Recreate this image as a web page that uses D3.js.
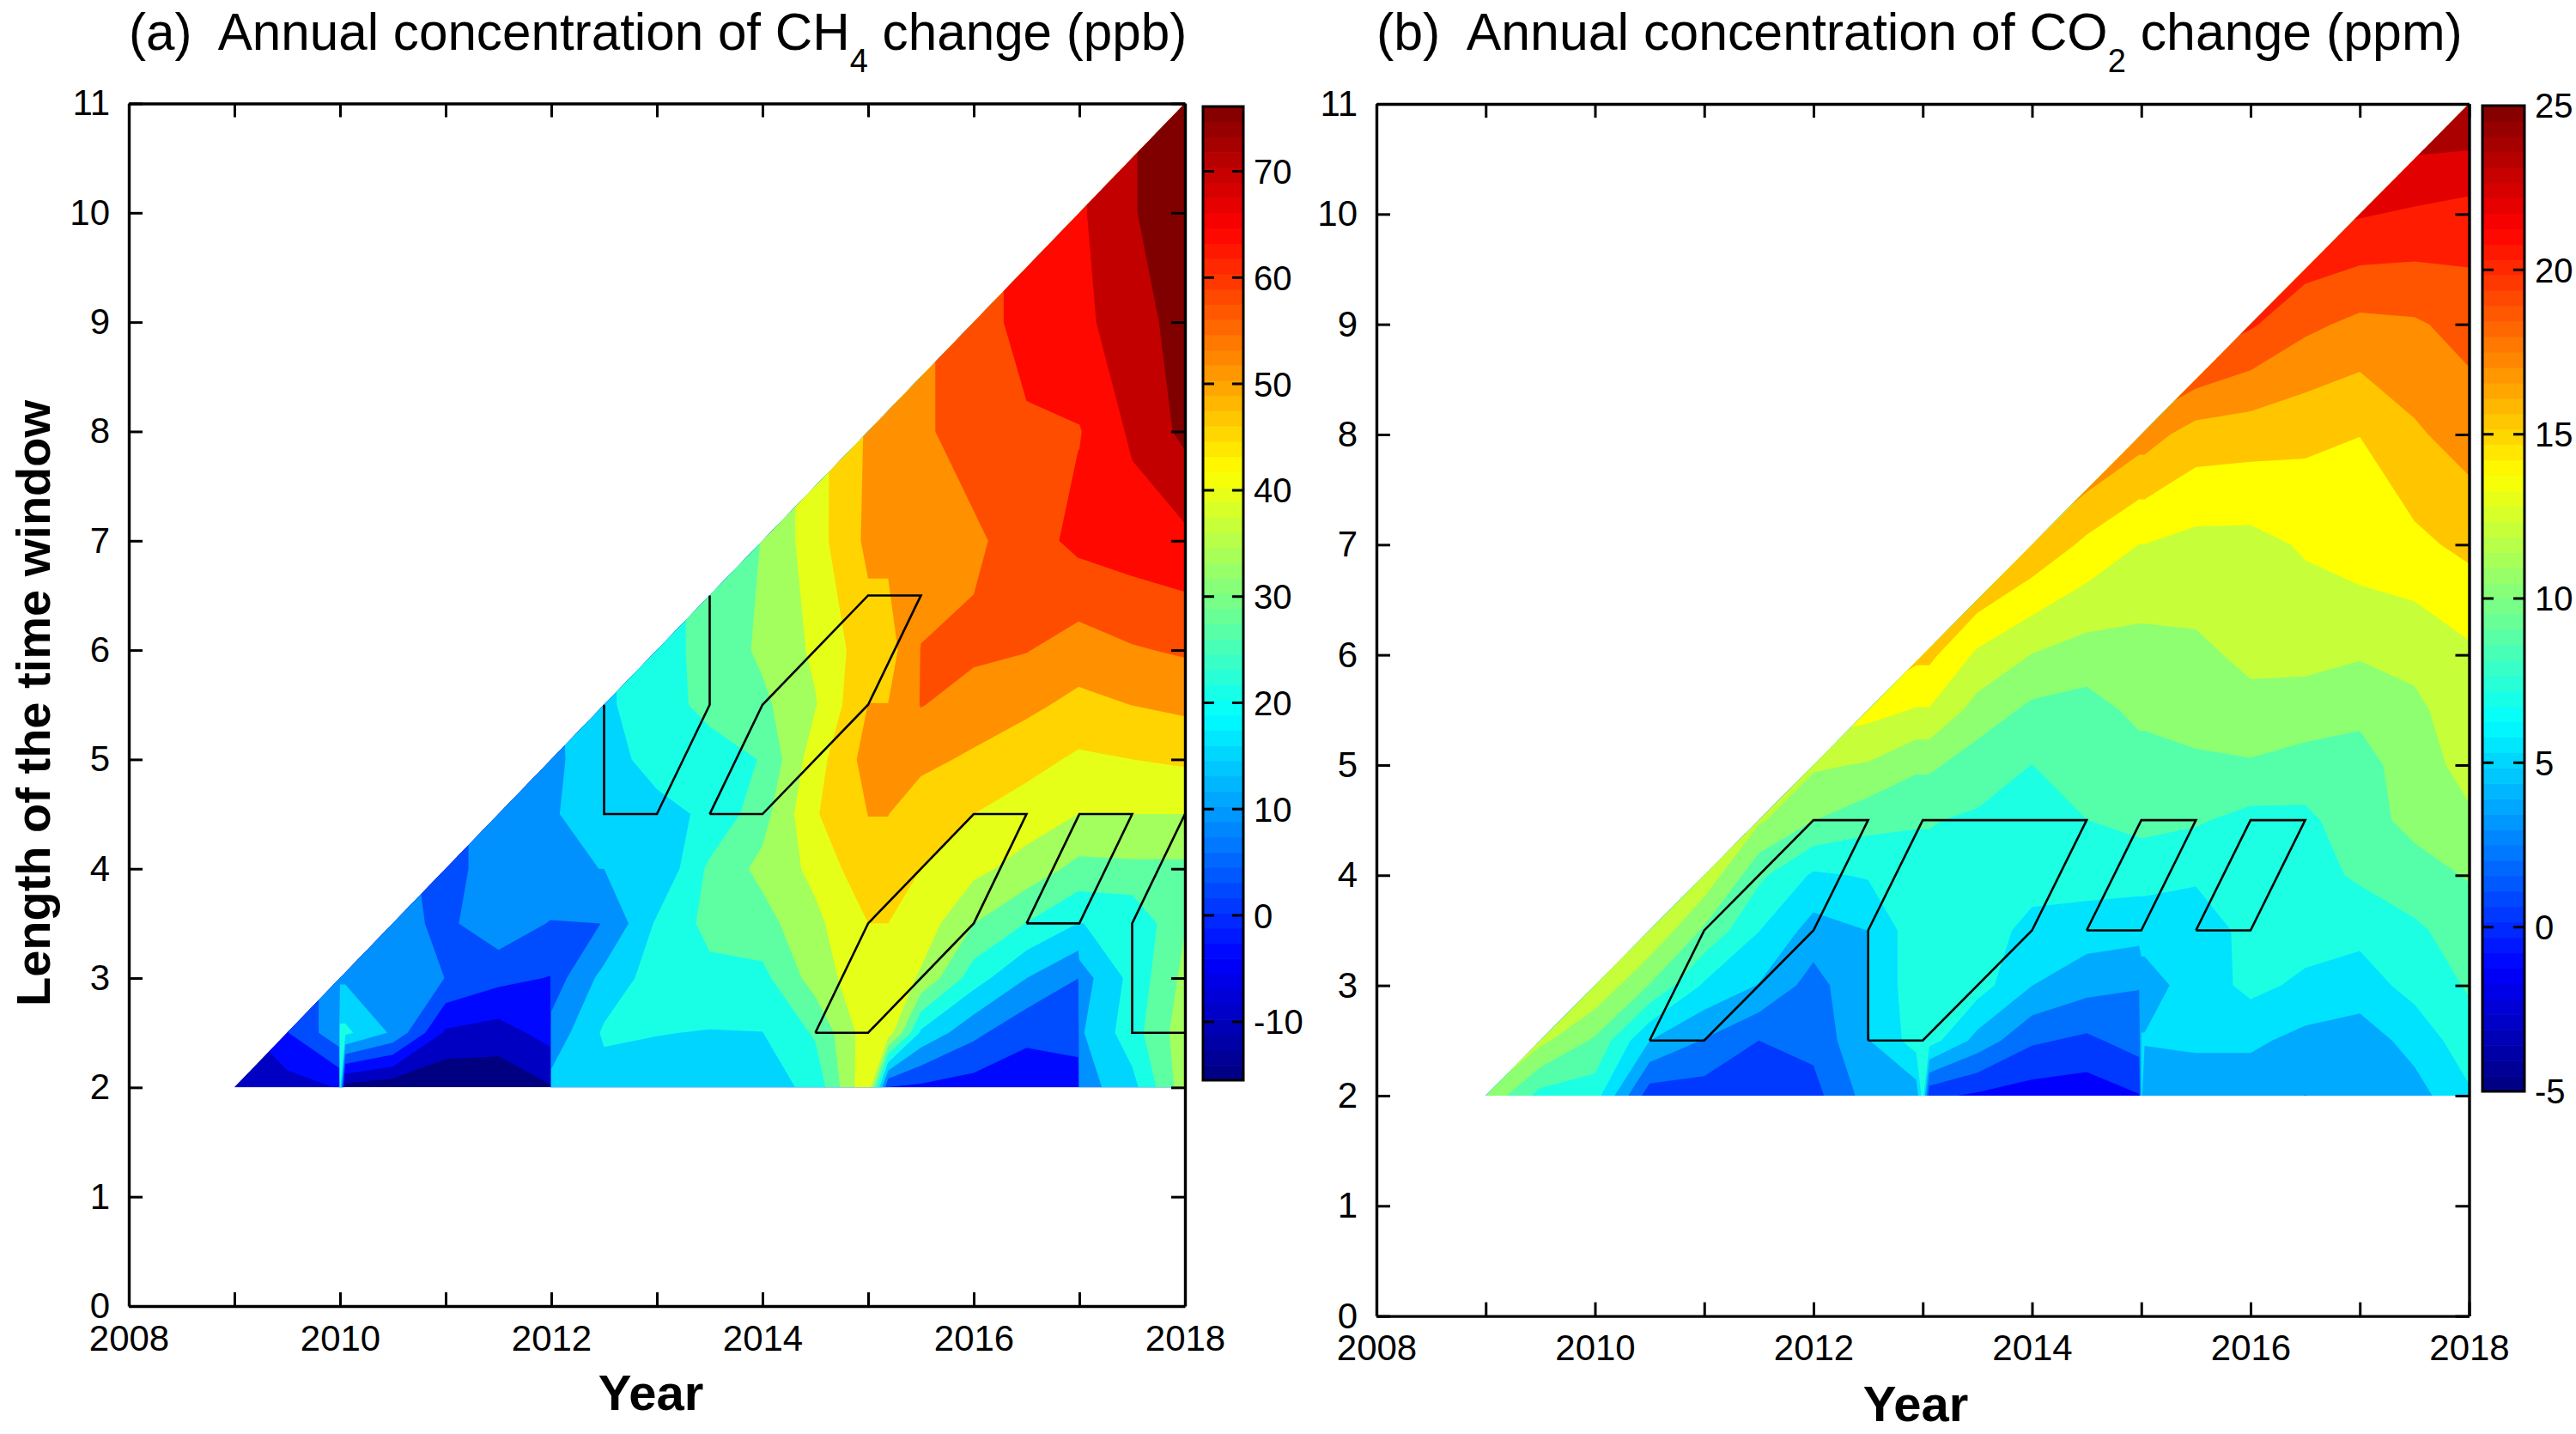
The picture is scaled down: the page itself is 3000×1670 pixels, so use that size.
<!DOCTYPE html>
<html>
<head>
<meta charset="utf-8">
<script src="https://cdnjs.cloudflare.com/ajax/libs/d3/7.8.5/d3.min.js"></script>
<style>
body { margin: 0; background: #fff; }
text { font-family: "Liberation Sans", Arial, sans-serif; fill: #000; white-space: pre; }
</style>
</head>
<body>
<svg width="3000" height="1670"></svg>
<script>
const yearCols = d3.range(2009, 2018.5, 0.5);
const windowRows = [2, 2.5, 3, 3.5, 4, 4.5, 5, 5.5, 6, 7, 8, 9, 10, 11];

// each row ends at 2018 and starts on the diagonal of the triangle
const ch4Rows = [
  [-9, -9, 21, -17, -18, -17, 14, 15.5, 15, 15, 15, 20, 42, -1.5, -3, -3.5, 9, 16, 34],
  [-0.5, 19.5, 11, -7.3, -9, 8, 19, 18.3, 17.8, 18, 25, 40, 17, 7.5, 1, 11, 21.5, 34],
  [11, 9, 5.8, 1.5, 2.5, 14, 21, 22.5, 22.5, 33, 41, 35.5, 21, 12, 9, 20, 32],
  [8, 4.5, 10, 5.5, 5.9, 19, 26, 28, 35, 42.5, 40, 30.3, 24, 18, 19, 30],
  [3.5, 9, 11.8, 12, 12.5, 25.5, 32, 38, 47, 42.5, 38, 34, 28.5, 29, 29],
  [9, 11.5, 14.5, 16.5, 19, 28, 42, 48.7, 45.5, 42.5, 39.5, 36.4, 36.4, 36.4],
  [10.5, 16, 20, 21.5, 24.5, 40, 51, 50, 47.7, 44.7, 41.5, 42.5, 43.5],
  [17, 21.5, 26, 29, 36, 48.7, 55, 52, 50, 47, 48.7, 50],
  [22, 26, 31.5, 37.5, 46, 54.9, 56, 55, 52, 54.2, 55.5],
  [30.5, 40, 50, 52, 53.5, 58, 62.5, 64, 65.5],
  [49.5, 53.5, 58, 60, 60.5, 68, 74.6],
  [58, 63, 65.5, 70, 76],
  [66, 72.5, 78],
  [78]
];
const co2Rows = [
  [11, 7.3, 7, 0.3, 0.4, 0.2, 0.7, 3.6, 7, -0.7, -1.2, -1.4, 5, 3.5, 3.5, 2.9, 3.3, 3.9, 6],
  [11.7, 9.3, 4.6, 2.8, 1.25, 1.7, 4.5, 7, 4, 1.5, 0.9, 4.7, 4.9, 4.9, 4.1, 3.7, 5.2, 7.2],
  [12.7, 9.5, 6, 4.5, 2.2, 4.6, 7.3, 7, 4.6, 3.5, 3.9, 5.3, 6.7, 5.9, 5.5, 6.8, 8.1],
  [12.8, 9.3, 6.3, 3.9, 4.6, 7.3, 7.2, 5.7, 5.4, 5.2, 4.9, 7, 7, 6.7, 7.6, 8.8],
  [12.5, 8.3, 6, 6.4, 7.5, 7.4, 7, 7, 6.9, 6.6, 6.6, 7.2, 8.2, 9, 9.7],
  [11.5, 9.6, 8.5, 8, 7.7, 7.5, 7.9, 8.4, 8.1, 7.4, 7.5, 9, 10, 11],
  [11.5, 11.1, 9.9, 8.7, 7.9, 9, 8.9, 9.2, 9.4, 9, 8.9, 10.5, 11.8],
  [13.5, 12.8, 10.6, 9.2, 8.9, 10, 10.5, 10.8, 10.4, 10, 10.9, 12.2],
  [15, 12.6, 11.2, 10.5, 10.6, 10.9, 11.6, 11.8, 11.4, 11.7, 12.6],
  [16, 14.2, 12.9, 12.4, 12.4, 13.1, 13.8, 14.2, 15],
  [17, 15.5, 15.3, 15, 14.6, 16, 17],
  [19.8, 18.3, 17.5, 17.7, 18.5],
  [21.4, 21, 20.6],
  [24.6]
];

// sharp steps in the fill: year, side offset, values for the lowest rows
const ch4Steps = [
  [2010, -0.01, [-6, 10, 10]],
  [2010, 0.05, [-15]],
  [2012, -0.01, [-13, -4, -0.5]],
  [2015, 0.19, [-0.5]],
  [2017, -0.01, [-3, 2, 5.9]]
];
const co2Steps = [
  [2013, -0.06, [3.6]],
  [2013, 0.06, [0]],
  [2015, -0.02, [-0.5, 2, 3]],
  [2015, 0.03, [3.5]]
];

const ch4Outlines = [
  [[2012.5, 5.5], [2012.5, 4.5], [2013, 4.5], [2013.5, 5.5], [2013.5, 6.5]],
  [[2013.5, 4.5], [2014, 4.5], [2015, 5.5], [2015.5, 6.5], [2015, 6.5], [2014, 5.5], [2013.5, 4.5]],
  [[2014.5, 2.5], [2015, 2.5], [2016, 3.5], [2016.5, 4.5], [2016, 4.5], [2015, 3.5], [2014.5, 2.5]],
  [[2016.5, 3.5], [2017, 3.5], [2017.5, 4.5], [2017, 4.5], [2016.5, 3.5]],
  [[2018, 2.5], [2017.5, 2.5], [2017.5, 3.5], [2018, 4.5]]
];
const co2Outlines = [
  [[2010.5, 2.5], [2011, 2.5], [2012, 3.5], [2012.5, 4.5], [2012, 4.5], [2011, 3.5], [2010.5, 2.5]],
  [[2012.5, 2.5], [2013, 2.5], [2014, 3.5], [2014.5, 4.5], [2013, 4.5], [2012.5, 3.5], [2012.5, 2.5]],
  [[2014.5, 3.5], [2015, 3.5], [2015.5, 4.5], [2015, 4.5], [2014.5, 3.5]],
  [[2015.5, 3.5], [2016, 3.5], [2016.5, 4.5], [2016, 4.5], [2015.5, 3.5]]
];

const yearTicks = d3.range(2008, 2019);
const windowTicks = d3.range(0, 12);
const ch4BarTicks = [-10, 0, 10, 20, 30, 40, 50, 60, 70];
const co2BarTicks = [-5, 0, 5, 10, 15, 20, 25];
const ch4Range = [-15.5, 76.1];
const co2Range = [-5, 25];
const ch4Levels = d3.range(16).map(k => -15.5 + k * 91.6 / 15);
const co2Levels = d3.range(16).map(k => -1.25 + k * 5 / 3);

function jet(t) {
  const c = v => Math.round(255 * Math.max(0, Math.min(1, v)));
  return d3.rgb(
    c(Math.min(4 * t - 1.5, -4 * t + 4.5)),
    c(Math.min(4 * t - 0.5, -4 * t + 3.5)),
    c(Math.min(4 * t + 0.5, -4 * t + 2.5))
  ).formatHex();
}

function lookup(arr, i) {
  const p = Math.max(0, Math.min(arr.length - 1, i));
  const k = Math.min(arr.length - 2, Math.floor(p));
  return arr[k] + (arr[k + 1] - arr[k]) * (p - k);
}

// Nodes left of the diagonal are hidden by the clip and only steer the contours there.
// ch4 bands run upwards so they repeat the row below, co2 bands follow the diagonal so they carry on the row.
function buildGrid(rows, steps, carryRow) {
  const xs = d3.sort(yearCols.concat(steps.map(s => s[0] + s[1])));
  const base = (r, year) => {
    const vals = rows[r];
    const i = Math.round((year - 2009) * 2 - (yearCols.length - vals.length));
    if (i >= 0) return vals[i];
    if (!carryRow) return base(r - 1, year);
    return vals.length > 1 ? vals[0] + (vals[0] - vals[1]) * -i : vals[0];
  };
  const values = [];
  rows.forEach((row, r) => {
    xs.forEach(x => {
      const step = steps.find(s => s[0] + s[1] === x);
      if (step) values.push(step[2][r] !== undefined ? step[2][r] : base(r, step[0]));
      else values.push(base(r, x));
    });
  });
  return {xs, values};
}

const svg = d3.select("svg");
svg.append("rect").attr("width", 3000).attr("height", 1670).attr("fill", "#fff");
const defs = svg.append("defs");

function drawPanel(id, box, rows, steps, carryRow, levels, range, outlines) {
  const x = d3.scaleLinear().domain([2008, 2018]).range([box.left, box.right]);
  const y = d3.scaleLinear().domain([0, 11]).range([box.bottom, box.top]);
  const grid = buildGrid(rows, steps, carryRow);
  const g = svg.append("g");

  defs.append("clipPath").attr("id", id)
    .append("path")
    .attr("d", d3.line().x(d => x(d[0])).y(d => y(d[1]))([[2009, 2], [2018, 11], [2018, 2]]) + "Z");

  const step = levels[1] - levels[0];
  const contours = d3.contours()
    .size([grid.xs.length, windowRows.length])
    .thresholds(levels.map((l, k) => k === 0 ? -1000 : l - step / 2))(grid.values);

  const path = d3.geoPath(d3.geoTransform({
    point(px, py) {
      this.stream.point(x(lookup(grid.xs, px - 0.5)), y(lookup(windowRows, py - 0.5)));
    }
  }));

  g.append("g").attr("clip-path", "url(#" + id + ")")
    .selectAll("path")
    .data(contours)
    .join("path")
    .attr("d", path)
    .attr("fill", (d, i) => jet((levels[i] - range[0]) / (range[1] - range[0])));

  g.selectAll(".outline")
    .data(outlines)
    .join("path")
    .attr("class", "outline")
    .attr("fill", "none")
    .attr("stroke", "#000")
    .attr("stroke-width", 2.6)
    .attr("d", d3.line().x(d => x(d[0])).y(d => y(d[1])));

  const yearLabel = d => d % 2 === 0 ? d : "";
  const axes = [
    [d3.axisBottom(x).tickValues(yearTicks).tickFormat(yearLabel), box.bottom, null],
    [d3.axisTop(x).tickValues(yearTicks).tickFormat(""), box.top, null],
    [d3.axisLeft(y).tickValues(windowTicks), null, box.left],
    [d3.axisRight(y).tickValues(windowTicks).tickFormat(""), null, box.right]
  ];
  axes.forEach(([axis, ty, tx]) => {
    const a = g.append("g")
      .attr("transform", "translate(" + (tx || 0) + "," + (ty || 0) + ")")
      .call(axis.tickSizeInner(-16).tickSizeOuter(0).tickPadding(22));
    a.select(".domain").attr("stroke-width", 3.4);
    a.selectAll(".tick line").attr("stroke-width", 3);
    a.selectAll("text").attr("font-size", 42).attr("font-family", null);
    a.selectAll("text").filter(function() { return this.textContent === ""; }).remove();
  });
  return g;
}

function drawBar(box, range, ticks) {
  const y = d3.scaleLinear().domain(range).range([box.bottom, box.top]);
  const g = svg.append("g");
  const cells = d3.range(64);
  const v = i => range[0] + (range[1] - range[0]) * i / 64;
  g.selectAll("rect")
    .data(cells)
    .join("rect")
    .attr("x", box.left)
    .attr("width", box.right - box.left)
    .attr("y", i => y(v(i + 1)))
    .attr("height", i => y(v(i)) - y(v(i + 1)) + 0.6)
    .attr("fill", i => jet((i + 0.5) / 64));
  g.append("rect")
    .attr("x", box.left).attr("y", box.top)
    .attr("width", box.right - box.left).attr("height", box.bottom - box.top)
    .attr("fill", "none").attr("stroke", "#000").attr("stroke-width", 3);
  g.selectAll(".dash")
    .data(ticks.filter(t => t > range[0] && t < range[1]))
    .join("path")
    .attr("class", "dash")
    .attr("stroke", "#000").attr("stroke-width", 3)
    .attr("d", t => "M" + box.left + "," + y(t) + "h13M" + box.right + "," + y(t) + "h-13");
  g.selectAll(".lab")
    .data(ticks)
    .join("text")
    .attr("class", "lab")
    .attr("x", box.right + 12)
    .attr("y", t => y(t))
    .attr("dy", "0.36em")
    .attr("font-size", 40)
    .text(t => t);
}

function title(xPos, yPos, size, before, sub, after) {
  const t = svg.append("text").attr("x", xPos).attr("y", yPos).attr("font-size", size);
  t.append("tspan").text(before);
  t.append("tspan").attr("dy", 26).attr("font-size", 38).text(sub);
  t.append("tspan").attr("dy", -26).text(after);
}

drawPanel("clipA", {left: 150, right: 1380, top: 120.5, bottom: 1521}, ch4Rows, ch4Steps, false, ch4Levels, ch4Range, ch4Outlines);
drawPanel("clipB", {left: 1603, right: 2875.5, top: 121, bottom: 1532.6}, co2Rows, co2Steps, true, co2Levels, co2Range, co2Outlines);
drawBar({left: 1401, right: 1448, top: 124, bottom: 1258}, ch4Range, ch4BarTicks);
drawBar({left: 2891, right: 2940, top: 123, bottom: 1271}, co2Range, co2BarTicks);

title(150, 58, 60.2, "(a)  Annual concentration of CH", "4", " change (ppb)");
title(1603, 58, 60.8, "(b)  Annual concentration of CO", "2", " change (ppm)");

svg.append("text").attr("x", 758).attr("y", 1642).attr("text-anchor", "middle")
  .attr("font-size", 58).attr("font-weight", "bold").text("Year");
svg.append("text").attr("x", 2231).attr("y", 1655).attr("text-anchor", "middle")
  .attr("font-size", 58).attr("font-weight", "bold").text("Year");
svg.append("text").attr("transform", "translate(58,819) rotate(-90)").attr("text-anchor", "middle")
  .attr("font-size", 56).attr("font-weight", "bold").text("Length of the time window");
</script>
</body>
</html>
